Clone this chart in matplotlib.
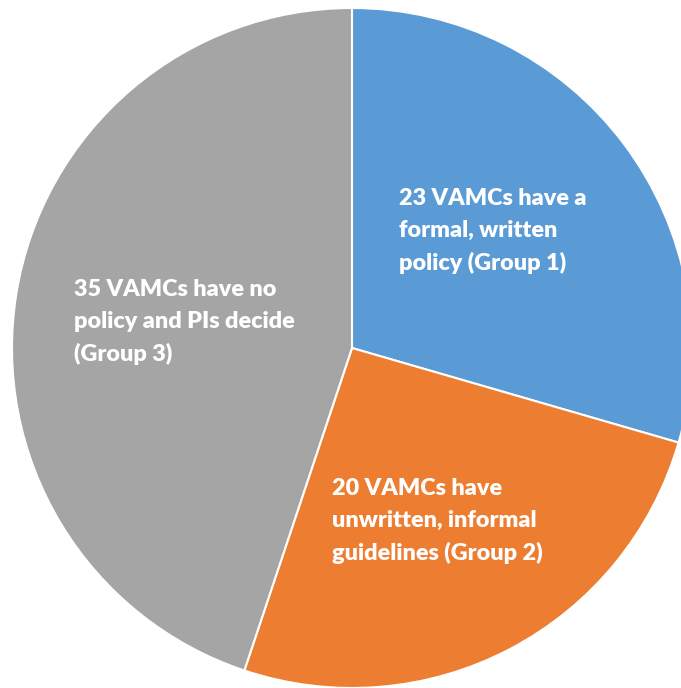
import matplotlib.pyplot as plt

groups = ['Group 1', 'Group 2', 'Group 3']
counts = [23, 20, 35]
labels = ['23 VAMCs have a\nformal, written\npolicy (Group 1)',
          '20 VAMCs have\nunwritten, informal\nguidelines (Group 2)',
          '35 VAMCs have no\npolicy and PIs decide\n(Group 3)']
colors = ['#5B9BD5', '#ED7D31', '#A5A5A5']

W, H = 681, 688
cx, cy, r = 352, 348, 340

fig = plt.figure(figsize=(W / 100, H / 100), dpi=100)
ax = fig.add_axes([(cx - r) / W, (H - cy - r) / H, 2 * r / W, 2 * r / H])
ax.pie(counts, colors=colors, startangle=90, counterclock=False, radius=1,
       wedgeprops={'edgecolor': 'white', 'linewidth': 1.5})
ax.set_xlim(-1, 1)
ax.set_ylim(-1, 1)
ax.set_aspect('equal')
ax.axis('off')


def to_data(px, py):
    return (px - cx) / r, (cy - py) / r


label_pos = [(399, 188), (332, 478), (74, 279)]
for lab, (px, py) in zip(labels, label_pos):
    x, y = to_data(px, py)
    ax.text(x, y, lab, ha='left', va='top', color='white', fontsize=16.8,
            fontweight='heavy', family=['Lato', 'DejaVu Sans'], linespacing=1.62)

fig.savefig('out.png', dpi=100)
